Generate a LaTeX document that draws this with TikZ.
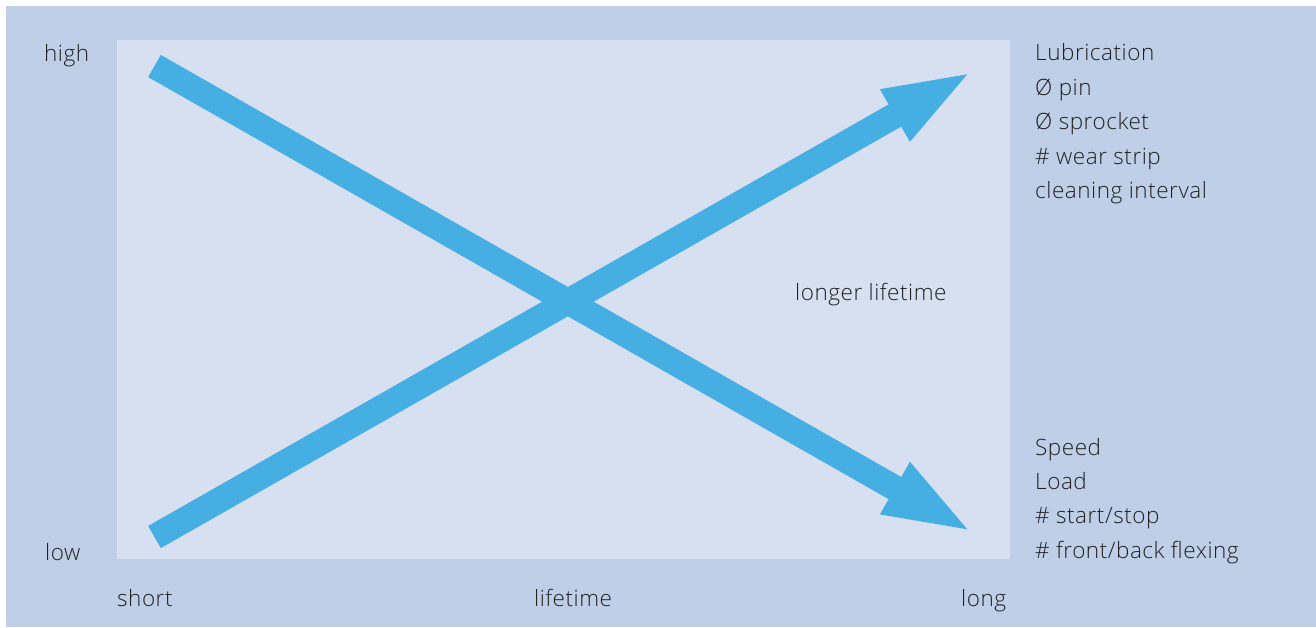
\documentclass[tikz,border=0pt]{standalone}
\usepackage{fontspec}
\setmainfont{Open Sans}[UprightFont=* Light,LetterSpace=2.4]
\usetikzlibrary{calc}
\definecolor{outerbg}{HTML}{BECFE7}
\definecolor{innerbg}{HTML}{D6E0F1}
\definecolor{arrowc}{HTML}{45AEE2}
\definecolor{txt}{HTML}{222222}
\begin{document}
\begin{tikzpicture}[x=1pt,y=-1pt,
  lbl/.style={anchor=base west,inner sep=0pt,text=txt,font=\fontsize{22.5}{25}\selectfont},
  shaft/.style={draw=arrowc,line width=25.5pt,line cap=butt},
  headfill/.style={fill=arrowc}]
\useasboundingbox (0,0) rectangle (1316,627);
\fill[white] (0,0) rectangle (1316,627);
\fill[outerbg] (6,6) rectangle (1316,627);
\fill[innerbg] (117,40) rectangle (1010,559);
% arrow coordinates
\coordinate (T1) at (154.5,66);
\coordinate (P1) at (967.3,529.3);
\coordinate (T2) at (154.5,537);
\coordinate (P2) at (967.3,74.3);
\coordinate (B1) at ($(P1)!83.3pt!(T1)$);
\coordinate (B2) at ($(P2)!83.3pt!(T2)$);
\coordinate (S1) at ($(P1)!70pt!(T1)$);
\coordinate (S2) at ($(P2)!70pt!(T2)$);
% down-right arrow
\draw[shaft] (T1) -- (S1);
\fill[headfill] (P1) -- ($(B1)!30.3pt!90:(P1)$) -- ($(B1)!30.3pt!-90:(P1)$) -- cycle;
% up-right arrow
\draw[shaft] (T2) -- (S2);
\fill[headfill] (P2) -- ($(B2)!30.3pt!90:(P2)$) -- ($(B2)!30.3pt!-90:(P2)$) -- cycle;
% axis labels
\node[lbl] (high) at (44,61) {high};
\node[lbl] (low) at (45,560) {low};
\node[lbl] (short) at (117,606) {short};
\node[lbl] (lifetime) at (534,606) {lifetime};
\node[lbl] (long) at (961,606) {long};
\node[lbl] (longer) at (795,300) {longer lifetime};
% right lists
\node[lbl] (l1) at (1035,60.7) {Lubrication};
\node[lbl] (l2) at (1035,95.2) {Ø pin};
\node[lbl] (l3) at (1035,129.7) {Ø sprocket};
\node[lbl] (l4) at (1035,164.2) {\# wear strip};
\node[lbl] (l5) at (1035,198) {cleaning interval};
\node[lbl] (r1) at (1035,455) {Speed};
\node[lbl] (r2) at (1035,489.5) {Load};
\node[lbl] (r3) at (1035,523.5) {\# start/stop};
\node[lbl] (r4) at (1035,558) {\# front/back flexing};
\end{tikzpicture}
\end{document}
